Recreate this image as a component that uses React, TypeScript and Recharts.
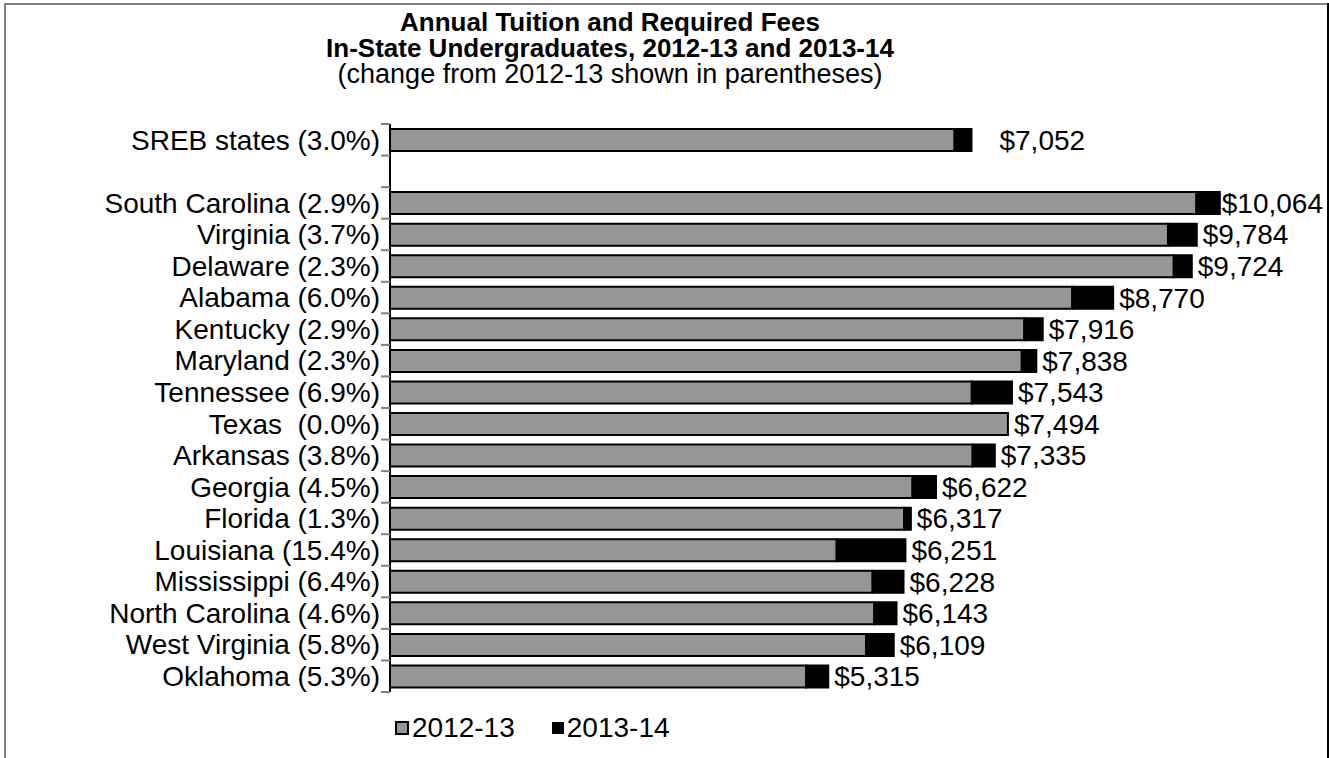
import React from "react";
import { BarChart, Bar, XAxis, YAxis, LabelList } from "recharts";

const categories: string[] = [
  "SREB states (3.0%)",
  " ",
  "South Carolina (2.9%)",
  "Virginia (3.7%)",
  "Delaware (2.3%)",
  "Alabama (6.0%)",
  "Kentucky (2.9%)",
  "Maryland (2.3%)",
  "Tennessee (6.9%)",
  "Texas  (0.0%)",
  "Arkansas (3.8%)",
  "Georgia (4.5%)",
  "Florida (1.3%)",
  "Louisiana (15.4%)",
  "Mississippi (6.4%)",
  "North Carolina (4.6%)",
  "West Virginia (5.8%)",
  "Oklahoma (5.3%)",
];

const tuition2012: (number | null)[] = [
  6847, null, 9780, 9435, 9505, 8274, 7693, 7662, 7056, 7494, 7066, 6337, 6236, 5417, 5853, 5873, 5774, 5047,
];

const tuition2013: (number | null)[] = [
  7052, null, 10064, 9784, 9724, 8770, 7916, 7838, 7543, 7494, 7335, 6622, 6317, 6251, 6228, 6143, 6109, 5315,
];

const seriesNames = ["2012-13", "2013-14"];

const data = categories.map((name, i) => ({
  name,
  base: tuition2012[i],
  increase:
    tuition2013[i] == null || tuition2012[i] == null ? null : (tuition2013[i] as number) - (tuition2012[i] as number),
  total: tuition2013[i],
}));

const W = 1329;
const H = 758;
const TOP = 124;
const BOTTOM = 66;
const LEFT = 390;
const RIGHT = 32;
const FONT = "'Liberation Sans', Arial, sans-serif";
const FS = 28;
const BAND = (H - TOP - BOTTOM) / categories.length;

const CatTick = (props: any) => {
  const { y, payload, index } = props;
  const last = index === categories.length - 1;
  return (
    <g>
      <line x1={LEFT - 9} x2={LEFT} y1={y - BAND / 2} y2={y - BAND / 2} stroke="#808080" strokeWidth={2} />
      {last && (
        <line x1={LEFT - 9} x2={LEFT} y1={y + BAND / 2} y2={y + BAND / 2} stroke="#808080" strokeWidth={2} />
      )}
      <text
        x={LEFT - 10}
        y={y}
        dy="0.35em"
        textAnchor="end"
        fontFamily={FONT}
        fontSize={FS}
        fill="#000"
        style={{ whiteSpace: "pre" }}
      >
        {payload.value}
      </text>
    </g>
  );
};

const fmt = (v: number) => "$" + v.toLocaleString("en-US");

const labelKey = (d: any) => (d.total == null || d.base == null ? null : [d.base, d.total]);

const TotalLabel = (props: any) => {
  const { x, y, width, height, value } = props;
  if (!Array.isArray(value)) return null;
  const [base, total] = value as number[];
  const end = Number(x) + (Number(width) * total) / base;
  const isAggregate = Math.abs(Number(y) + Number(height) / 2 - (TOP + BAND / 2)) < BAND / 2;
  const off = isAggregate ? 28 : 6;
  const text = fmt(total);
  const estWidth = text.length * FS * 0.52;
  let tx = end + off;
  let anchor: "start" | "end" = "start";
  if (tx + estWidth > W - 6) {
    tx = W - 6;
    anchor = "end";
  }
  return (
    <text
      x={tx}
      y={Number(y) + Number(height) / 2}
      dy="0.35em"
      textAnchor={anchor}
      fontFamily={FONT}
      fontSize={FS}
      fill="#000"
    >
      {text}
    </text>
  );
};

export default function App() {
  return (
    <div style={{ position: "absolute", left: 0, top: 0, width: W, height: H, background: "#fff", overflow: "hidden" }}>
      <div style={{ position: "absolute", left: 4, top: 3, width: 2, height: H, background: "#808080" }} />
      <div style={{ position: "absolute", left: 4, top: 3, width: W - 4, height: 2, background: "#808080" }} />
      <div style={{ position: "absolute", left: W - 2, top: 3, width: 2, height: H, background: "#000" }} />
      <div
        style={{
          position: "absolute",
          left: 0,
          top: 9,
          width: 1220,
          textAlign: "center",
          fontFamily: FONT,
          fontSize: 26,
          lineHeight: "26px",
          color: "#000",
        }}
      >
        <div style={{ fontWeight: "bold" }}>Annual Tuition and Required Fees</div>
        <div style={{ fontWeight: "bold" }}>In-State Undergraduates, 2012-13 and 2013-14</div>
        <div style={{ fontSize: 27 }}>(change from 2012-13 shown in parentheses)</div>
      </div>
      <div style={{ position: "absolute", left: 0, top: 0 }}>
        <BarChart
          width={W}
          height={H}
          data={data}
          layout="vertical"
          margin={{ top: TOP, bottom: BOTTOM, left: 0, right: RIGHT }}
          barSize={22}
        >
          <XAxis type="number" domain={[0, 11000]} hide />
          <YAxis
            type="category"
            dataKey="name"
            width={LEFT}
            axisLine={{ stroke: "#000", strokeWidth: 2 }}
            tickLine={false}
            tick={<CatTick />}
            interval={0}
          />
          <Bar dataKey="base" stackId="a" fill="#969696" stroke="#000" strokeWidth={2} isAnimationActive={false}>
            <LabelList dataKey={labelKey} content={<TotalLabel />} />
          </Bar>
          <Bar dataKey="increase" stackId="a" fill="#000" stroke="#000" strokeWidth={2} isAnimationActive={false} />
        </BarChart>
      </div>
      <div
        style={{
          position: "absolute",
          left: 395,
          top: 712,
          display: "flex",
          alignItems: "center",
          fontFamily: FONT,
          fontSize: FS,
          lineHeight: "32px",
          color: "#000",
        }}
      >
        <span
          style={{
            display: "inline-block",
            width: 10,
            height: 10,
            background: "#969696",
            border: "2px solid #000",
            marginRight: 3,
          }}
        />
        <span style={{ marginRight: 37 }}>{seriesNames[0]}</span>
        <span style={{ display: "inline-block", width: 12, height: 12, background: "#000", marginRight: 3 }} />
        <span>{seriesNames[1]}</span>
      </div>
    </div>
  );
}
